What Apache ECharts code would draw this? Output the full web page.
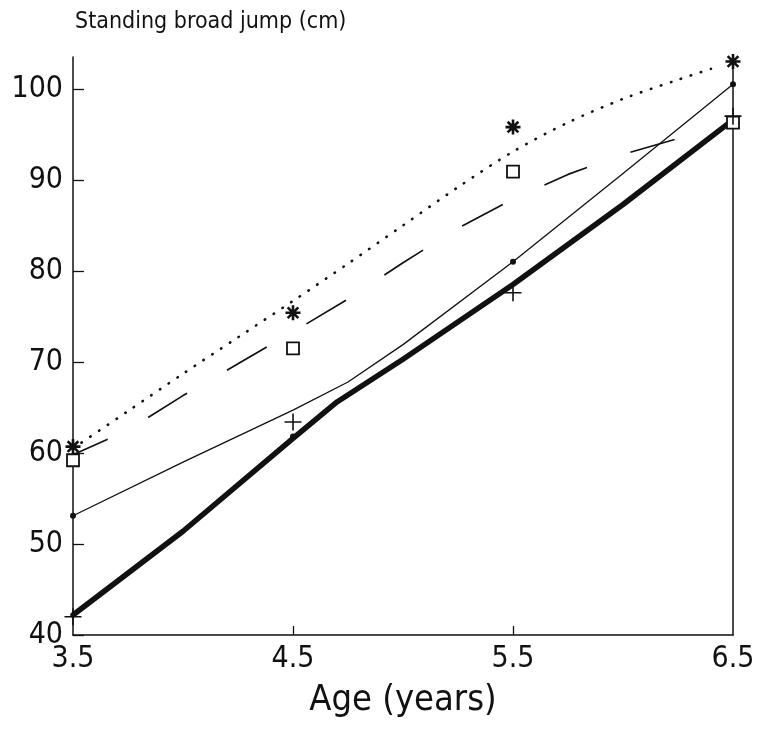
<!DOCTYPE html>
<html>
<head>
<meta charset="utf-8">
<script src="https://cdn.jsdelivr.net/npm/echarts@6/dist/echarts.min.js"></script>
<style>
html,body{margin:0;padding:0;background:#fff;}
#c{width:766px;height:730px;}
</style>
</head>
<body>
<div id="c"></div>
<script>
// Tick labels
const ageTicks = [3.5, 4.5, 5.5, 6.5];
const innerAgeTicks = [4.5, 5.5];
const jumpTicks = [40, 50, 60, 70, 80, 90, 100];

// Observed points (markers)
const ages = [3.5, 4.5, 5.5, 6.5];
const starVals = [60.7, 75.4, 95.8, 103.0];
const squareVals = [59.2, 71.5, 90.9, 96.3];
const dotVals = [53.1, 61.8, 81.0, 100.5];
const plusVals = [42.0, 63.4, 77.6, 97.0];

// Curves
const dottedAges = [3.5, 3.75, 4, 4.25, 4.5, 4.75, 5, 5.25, 5.5, 5.75, 6, 6.25, 6.4];
const dottedVals = [60.5, 64.6, 68.7, 72.7, 76.7, 80.8, 85.0, 89.2, 93.1, 96.3, 98.9, 101.0, 102.2];
const dashedAges = [3.5, 3.75, 4, 4.25, 4.5, 4.75, 5, 5.25, 5.5, 5.75, 6, 6.3];
const dashedVals = [59.8, 62.5, 66.3, 69.8, 73.3, 76.9, 80.9, 84.7, 87.9, 90.6, 92.8, 94.9];
const thinAges = [3.5, 4, 4.5, 4.75, 5, 5.5, 6, 6.5];
const thinVals = [53.1, 59.0, 64.7, 67.8, 71.9, 81.0, 90.7, 100.5];
const thickAges = [3.5, 4, 4.5, 4.7, 5, 5.5, 6, 6.5];
const thickVals = [42.2, 51.4, 61.6, 65.6, 70.3, 78.5, 87.3, 96.6];

const zip = (xs, ys) => xs.map((x, i) => [x, ys[i]]);
const FONT = "'Liberation Sans Narrow', 'DejaVu Sans Condensed', 'Liberation Sans', sans-serif";
const INK = '#111';

const chart = echarts.init(document.getElementById('c'), null, {renderer: 'canvas'});
chart.setOption({
  animation: false,
  backgroundColor: '#fff',
  title: {
    text: 'Standing broad jump (cm)',
    left: 70, top: 6,
    textStyle: {fontFamily: FONT, fontSize: 23, fontWeight: 'normal', color: INK}
  },
  grid: {left: 73, right: 33, top: 57, bottom: 95, containLabel: false, outerBoundsMode: 'none'},
  xAxis: {
    type: 'value', min: 3.5, max: 6.5,
    name: 'Age (years)', nameLocation: 'middle', nameGap: 48,
    nameTextStyle: {fontFamily: FONT, fontSize: 36, color: INK},
    axisLine: {show: true, lineStyle: {color: INK, width: 1.5}},
    axisTick: {show: true, inside: true, length: 9, customValues: innerAgeTicks, lineStyle: {color: INK, width: 1.3}},
    axisLabel: {customValues: ageTicks, margin: 9, fontFamily: FONT, fontSize: 30, color: INK,
      formatter: v => v.toFixed(1)},
    splitLine: {show: false}
  },
  yAxis: [{
    type: 'value', min: 40, max: 103.5,
    axisLine: {show: true, lineStyle: {color: INK, width: 1.5}},
    axisTick: {show: true, inside: true, length: 11, customValues: jumpTicks, lineStyle: {color: INK, width: 1.3}},
    axisLabel: {customValues: jumpTicks, margin: 10, fontFamily: FONT, fontSize: 30, color: INK},
    splitLine: {show: false}
  }, {
    type: 'value', min: 40, max: 103.5, position: 'right',
    axisLine: {show: true, lineStyle: {color: INK, width: 1.5}},
    axisTick: {show: false}, axisLabel: {show: false}, splitLine: {show: false}
  }],
  series: [
    {type: 'line', data: zip(dottedAges, dottedVals), smooth: 0.3, symbol: 'none',
      lineStyle: {color: INK, width: 2.6, type: [0.5, 10], cap: 'round'}, z: 2},
    {type: 'line', data: zip(dashedAges, dashedVals), symbol: 'none',
      lineStyle: {color: INK, width: 1.7, type: [46, 46], dashOffset: 8}, z: 2},
    {type: 'line', data: zip(thinAges, thinVals), symbol: 'none',
      lineStyle: {color: INK, width: 1.3}, z: 2},
    {type: 'line', data: zip(thickAges, thickVals), symbol: 'none',
      lineStyle: {color: INK, width: 5.5, cap: 'round', join: 'round'}, z: 2},
    {type: 'scatter', data: zip(ages, starVals), symbolSize: 15,
      symbol: 'path://M7,0L7,14M0,7L14,7M2,2L12,12M12,2L2,12',
      itemStyle: {color: 'none', borderColor: INK, borderWidth: 2.6, opacity: 1}, z: 5},
    {type: 'scatter', data: zip(ages, squareVals), symbol: 'rect', symbolSize: 12,
      itemStyle: {color: '#fff', borderColor: INK, borderWidth: 1.8, opacity: 1}, z: 4},
    {type: 'scatter', data: zip(ages, dotVals), symbol: 'circle', symbolSize: 6,
      itemStyle: {color: INK, opacity: 1}, z: 4},
    {type: 'scatter', data: zip(ages, plusVals), symbolSize: 17,
      symbol: 'path://M0,7L14,7M7,0L7,14',
      itemStyle: {color: 'none', borderColor: INK, borderWidth: 1.6, opacity: 1}, z: 4}
  ]
});
</script>
</body>
</html>
